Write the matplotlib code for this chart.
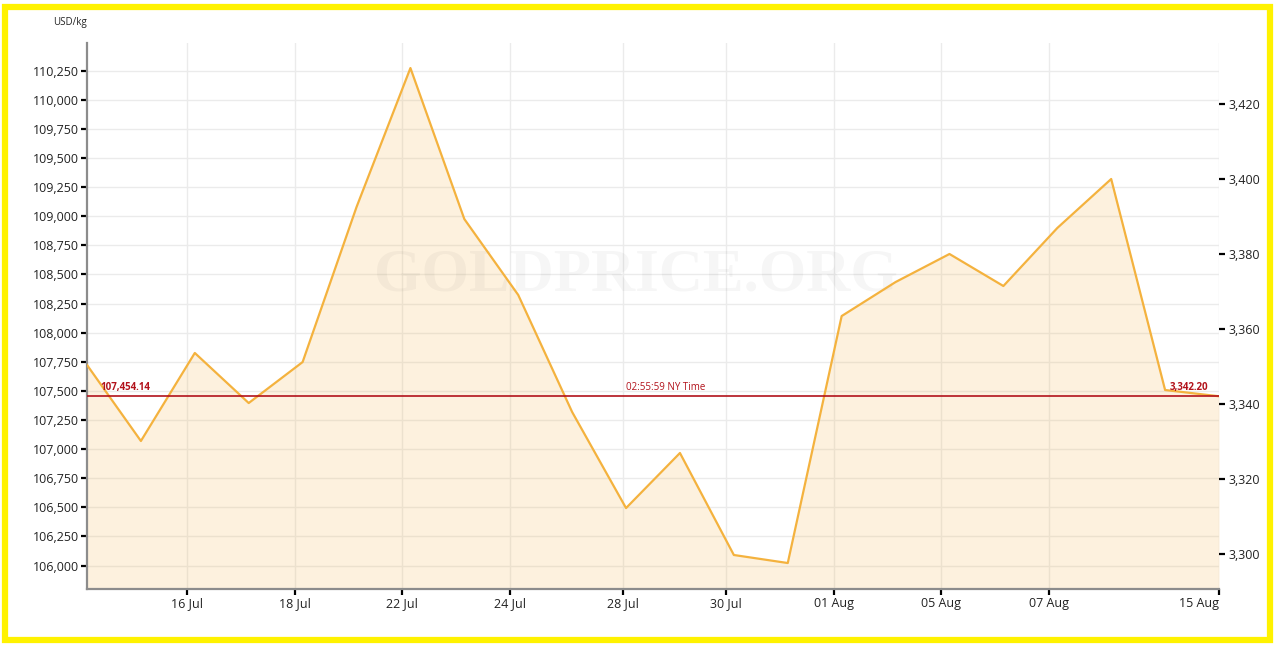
import matplotlib.pyplot as plt
from matplotlib.patches import Rectangle
from matplotlib.ticker import FuncFormatter
import numpy as np

plt.rcParams['font.family'] = ['Open Sans', 'DejaVu Sans']

# gold price in USD/kg, one point per trading day
prices = [107723, 107070, 107826, 107396, 107748, 109079, 110273, 108976,
          108324, 107319, 106494, 106967, 106091, 106022, 108143, 108435,
          108676, 108401, 108899, 109320, 107508, 107454.14]
tick_pos = [1.85, 3.85, 5.85, 7.85, 9.95, 11.85, 13.85, 15.85, 17.85, 21.0]
tick_labels = ['16 Jul', '18 Jul', '22 Jul', '24 Jul', '28 Jul', '30 Jul',
               '01 Aug', '05 Aug', '07 Aug', '15 Aug']
current_kg = 107454.14
current_oz = 3342.20
time_label = '02:55:59 NY Time'

x = np.arange(len(prices))
ymin, ymax = 105799, 110488

fig = plt.figure(figsize=(12.8, 6.45), dpi=100)
ax = fig.add_axes([87 / 1280, 56 / 645, 1132 / 1280, 546 / 645])

ax.fill_between(x, prices, ymin, color='#F5B95A', alpha=0.2, linewidth=0, zorder=2)
ax.plot(x, prices, color='#F4B23E', linewidth=1.6, zorder=3)
ax.axhline(current_kg, color='#B2121B', linewidth=1.2, zorder=4)

ax.set_xlim(0, len(prices) - 1)
ax.set_ylim(ymin, ymax)
ax.set_yticks(np.arange(106000, 110251, 250))
ax.yaxis.set_major_formatter(FuncFormatter(lambda v, p: f'{v:,.0f}'))
ax.set_xticks(tick_pos)
ax.set_xticklabels(tick_labels)
ax.get_xticklabels()[-1].set_ha('right')
ax.grid(True, color='#EBEBEB', linewidth=1, zorder=1)
ax.set_axisbelow(True)

for s in ['top', 'right']:
    ax.spines[s].set_visible(False)
for s in ['left', 'bottom']:
    ax.spines[s].set_color('#8C8C8C')
    ax.spines[s].set_linewidth(1.6)
ax.tick_params(axis='both', colors='black', labelcolor='#222222', labelsize=9,
               length=4, width=1.6, pad=2)

ax2 = ax.twinx()
ax2.set_ylim(3290.7, 3436.3)
ax2.set_yticks(np.arange(3300, 3421, 20))
ax2.yaxis.set_major_formatter(FuncFormatter(lambda v, p: f'{v:,.0f}'))
for s in ['top', 'right', 'left', 'bottom']:
    ax2.spines[s].set_visible(False)
ax2.tick_params(axis='y', colors='black', labelcolor='#222222', labelsize=9,
                length=4, width=1.6, pad=3)

# watermark
ax.text(0.485, 0.575, 'GOLDPRICE.ORG', transform=ax.transAxes, ha='center',
        va='center', fontsize=44, family='Liberation Serif', fontweight='bold',
        color='#000000', alpha=0.035, zorder=2.5)

ax.annotate(f'{current_kg:,.2f}', (0.24, current_kg), xytext=(0, 2),
            textcoords='offset points', color='#B2121B', fontsize=7,
            fontweight='bold', ha='left', va='bottom', zorder=5)
ax.annotate(time_label, (10.74, current_kg), xytext=(0, 2),
            textcoords='offset points', color='#B2121B', fontsize=7,
            ha='center', va='bottom', zorder=5)
ax.annotate(f'{current_oz:,.2f}', (20.8, current_kg), xytext=(0, 2),
            textcoords='offset points', color='#B2121B', fontsize=7,
            fontweight='bold', ha='right', va='bottom', zorder=5)

fig.text(87 / 1280, 1 - 22 / 645, 'USD/kg', fontsize=7, ha='right', va='center',
         color='#222222')

# yellow frame
fig.patches.append(Rectangle((5 / 1280, 5 / 645), 1265 / 1280, 633 / 645,
                             transform=fig.transFigure, fill=False,
                             edgecolor='#FFF200', linewidth=4.5))

fig.savefig('out.png', dpi=100)
